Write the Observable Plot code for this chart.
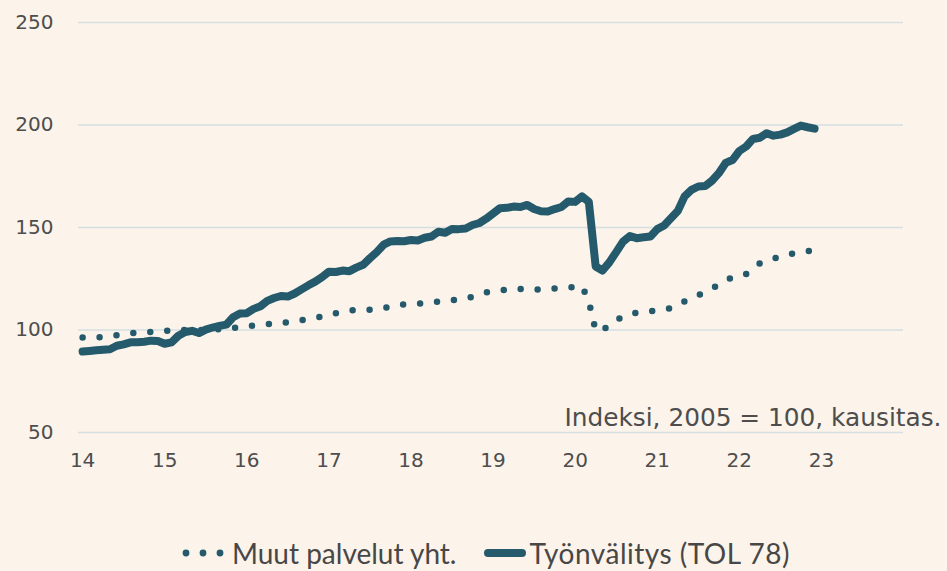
<!DOCTYPE html>
<html>
<head>
<meta charset="utf-8">
<script src="https://cdn.jsdelivr.net/npm/d3@7"></script>
<script src="https://cdn.jsdelivr.net/npm/@observablehq/plot@0.6"></script>
<style>
  html, body { margin: 0; padding: 0; background: #fcf3ea; }
  #wrap { position: relative; width: 947px; height: 571px; background: #fcf3ea; overflow: hidden; }
  #legend { position: absolute; left: 180px; top: 537px; height: 32px; display: flex; align-items: center;
            font-family: Lato, "Open Sans", sans-serif; font-size: 28px; color: #474747; white-space: nowrap; }
  #legend .item { display: flex; align-items: center; }
  #legend svg { display: block; }
</style>
</head>
<body>
<div id="wrap">
  <div id="chart"></div>
  <div id="legend"></div>
</div>
<script>
// Monthly data, Jan 2014 .. Dec 2022 (index 2005 = 100, seasonally adjusted)
const startYear = 14;
const seriesNames = ["Muut palvelut yht.", "Työnvälitys (TOL 78)"];
const muutPalvelut = [
  96.4, 96.3, 96.3, 96.6, 97.0, 97.4, 97.9, 98.4, 98.7, 98.8, 99.0, 99.2,
  99.5, 99.7, 99.9, 100.0, 100.0, 100.0, 100.0, 100.0, 100.4, 100.7, 101.0, 101.3,
  101.8, 102.1, 102.4, 102.8, 103.1, 103.5, 103.8, 104.2, 104.8, 105.4, 105.9, 106.6,
  107.4, 108.2, 109.0, 109.6, 109.7, 109.6, 109.9, 110.3, 110.7, 111.4, 112.1, 112.5,
  112.7, 112.8, 113.1, 113.4, 113.8, 114.2, 114.6, 114.9, 115.3, 116.2, 117.3, 118.3,
  118.9, 119.3, 119.7, 120.1, 120.0, 119.6, 119.6, 119.9, 120.2, 120.3, 120.3, 120.6,
  121.1, 121.5, 114.0, 99.6, 100.2, 101.9, 104.6, 106.8, 107.6, 108.4, 108.8, 109.2,
  109.6, 110.1, 110.6, 112.2, 114.0, 115.6, 117.0, 118.4, 120.3, 122.0, 124.1, 125.7,
  126.6, 127.3, 129.6, 132.5, 133.6, 134.8, 135.7, 136.7, 137.4, 137.9, 138.5, 138.8
];
const tyonvalitys = [
  89.5, 89.8, 90.1, 90.4, 90.6, 92.3, 93.0, 94.0, 94.0, 94.3, 94.8, 94.6,
  93.3, 94.0, 97.2, 99.0, 99.6, 98.5, 100.2, 101.2, 102.0, 102.6, 106.2, 108.0,
  108.2, 110.3, 111.6, 114.2, 115.6, 116.6, 116.3, 117.8, 119.8, 121.8, 123.6, 125.8,
  128.4, 128.3, 129.0, 128.7, 130.4, 131.8, 135.0, 138.0, 141.6, 143.2, 143.4, 143.3,
  143.9, 143.7, 145.0, 145.6, 147.9, 147.4, 149.3, 149.2, 149.5, 151.2, 152.2, 154.3,
  156.8, 159.4, 159.6, 160.2, 160.0, 161.0, 159.0, 157.9, 157.8, 159.0, 160.0, 162.7,
  162.5, 165.2, 162.5, 131.0, 129.0, 133.0, 138.0, 143.1, 145.8, 144.8, 145.2, 145.6,
  149.2, 151.0, 154.5, 158.0, 165.2, 168.4, 170.0, 170.2, 172.8, 176.5, 181.5, 182.9,
  187.3, 189.5, 193.2, 193.8, 196.0, 194.8, 195.3, 196.4, 198.1, 199.7, 198.9, 198.2
];
const xTicks = [14, 15, 16, 17, 18, 19, 20, 21, 22, 23];
const xTickLabels = ["14", "15", "16", "17", "18", "19", "20", "21", "22", "23"];
const yTicks = [50, 100, 150, 200, 250];
const note = "Indeksi, 2005 = 100, kausitas.";

const lineColor = "#245a6b";
const gridColor = "#d5dfe2";
const textColor = "#4d4d4d";

const muutData = muutPalvelut.map((v, i) => ({ t: startYear + i / 12, v }));
const tyoData = tyonvalitys.map((v, i) => ({ t: startYear + i / 12, v }));

const chart = Plot.plot({
  width: 947,
  height: 500,
  marginLeft: 78,
  marginRight: 44,
  marginTop: 22,
  marginBottom: 68,
  style: { background: "transparent", fontFamily: "'DejaVu Sans', sans-serif", fontSize: "20px", color: textColor, overflow: "visible" },
  x: { domain: [13.95, 24.0] },
  y: { domain: [50, 250] },
  marks: [
    Plot.gridY(yTicks, { stroke: gridColor, strokeOpacity: 1, strokeWidth: 1.6 }),
    Plot.axisY(yTicks, { tickSize: 0, tickPadding: 25, label: null, fill: textColor }),
    Plot.axisX(xTicks, { tickSize: 0, tickPadding: 20, label: null, fill: textColor,
      tickFormat: (d) => xTickLabels[xTicks.indexOf(d)] }),
    Plot.lineY(muutData, { x: "t", y: "v", stroke: lineColor, strokeWidth: 6.5,
      strokeDasharray: "0 17", strokeLinecap: "round", strokeLinejoin: "round" }),
    Plot.lineY(tyoData, { x: "t", y: "v", stroke: lineColor, strokeWidth: 8,
      strokeLinecap: "round", strokeLinejoin: "round" }),
    Plot.text([note], { frameAnchor: "bottom-right", textAnchor: "end", lineAnchor: "bottom",
      dx: 38, dy: -7, fontSize: 24.8, fill: textColor })
  ]
});
document.getElementById("chart").appendChild(chart);

// Legend
const legend = document.getElementById("legend");
function dotsSwatch() {
  const ns = "http://www.w3.org/2000/svg";
  const s = document.createElementNS(ns, "svg");
  s.setAttribute("width", 52); s.setAttribute("height", 14);
  [6, 23, 40].forEach(cx => {
    const c = document.createElementNS(ns, "circle");
    c.setAttribute("cx", cx); c.setAttribute("cy", 7); c.setAttribute("r", 3.4);
    c.setAttribute("fill", lineColor);
    s.appendChild(c);
  });
  return s;
}
function lineSwatch() {
  const ns = "http://www.w3.org/2000/svg";
  const s = document.createElementNS(ns, "svg");
  s.setAttribute("width", 46); s.setAttribute("height", 14);
  const l = document.createElementNS(ns, "line");
  l.setAttribute("x1", 5); l.setAttribute("x2", 39); l.setAttribute("y1", 7); l.setAttribute("y2", 7);
  l.setAttribute("stroke", lineColor); l.setAttribute("stroke-width", 8); l.setAttribute("stroke-linecap", "round");
  s.appendChild(l);
  return s;
}
const it1 = document.createElement("div"); it1.className = "item";
it1.appendChild(dotsSwatch());
const t1 = document.createElement("span"); t1.textContent = seriesNames[0]; it1.appendChild(t1);
const it2 = document.createElement("div"); it2.className = "item"; it2.style.marginLeft = "27px";
it2.appendChild(lineSwatch());
const t2 = document.createElement("span"); t2.textContent = seriesNames[1]; t2.style.letterSpacing = "0.5px"; it2.appendChild(t2);
legend.appendChild(it1); legend.appendChild(it2);
</script>
</body>
</html>
